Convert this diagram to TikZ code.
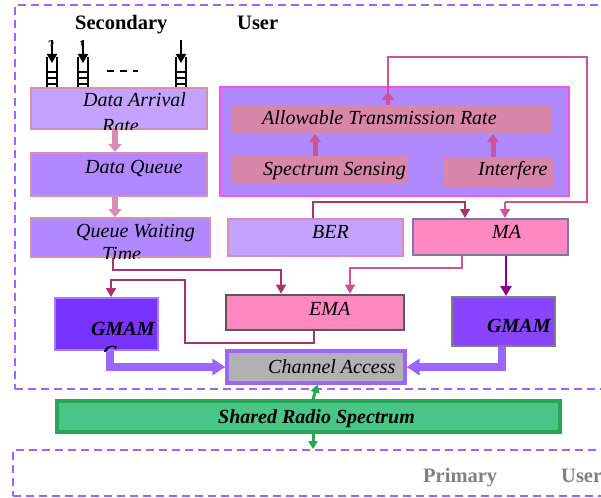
\documentclass[tikz,border=0pt]{standalone}
\usepackage{fontspec}
\setmainfont{Liberation Serif}
\usetikzlibrary{arrows.meta,calc}

\definecolor{lpur}{HTML}{C3A3FF}
\definecolor{mpur}{HTML}{B088FF}
\definecolor{pbord}{HTML}{DB8CB3}
\definecolor{magb}{HTML}{FF4FEA}
\definecolor{rose}{HTML}{D886AA}
\definecolor{rosearr}{HTML}{CC5599}
\definecolor{pinkfill}{HTML}{FF88C0}
\definecolor{maborder}{HTML}{7A7AA8}
\definecolor{darkmag}{HTML}{A8336F}
\definecolor{plum}{HTML}{880088}
\definecolor{vio}{HTML}{9966FF}
\definecolor{gmlfill}{HTML}{7733FF}
\definecolor{gmrfill}{HTML}{8844FF}
\definecolor{gmlbord}{HTML}{AA77FF}
\definecolor{cafill}{HTML}{B2B2B2}
\definecolor{srsfill}{HTML}{4AC588}
\definecolor{srsbord}{HTML}{24A857}
\definecolor{dashc}{HTML}{9966FF}
\definecolor{primgray}{HTML}{808080}

\tikzset{
  box/.style={draw, rectangle, inner sep=0pt, line width=2pt},
  dashbox/.style={draw=dashc, rectangle, inner sep=0pt, line width=1.8pt, dash pattern=on 8pt off 5pt},
  itxt/.style={font=\fontsize{20}{22}\selectfont\itshape, anchor=base west, inner sep=0pt},
  btxt/.style={font=\fontsize{20.5}{22}\selectfont\bfseries, anchor=base west, inner sep=0pt},
  bitxt/.style={font=\fontsize{20}{22}\selectfont\bfseries\itshape, anchor=base west, inner sep=0pt},
  fatpink/.style={draw=pbord, line width=6.5pt, -{Triangle[width=13pt,length=8pt]}},
  fatrose/.style={draw=rosearr, line width=5pt, -{Triangle[width=12pt,length=8pt]}},
  link/.style={line width=1.6pt, -{Triangle[width=10pt,length=9pt]}},
  fatvio/.style={draw=vio, line width=7.5pt, -{Triangle[width=16pt,length=13pt]}},
  green/.style={draw=srsbord, line width=3pt, -{Triangle[width=9pt,length=8pt]}},
}

\begin{document}
\begin{tikzpicture}[x=1pt,y=-1pt]
\clip (0,0) rectangle (601,497);
\fill[white] (0,0) rectangle (601,497);

% dashed frames
\node[dashbox, minimum width=600, minimum height=384] (sec) at (315,197) {};
\node[dashbox, minimum width=600, minimum height=46] (prim) at (313,473) {};

% titles
\node[btxt] (tsec) at (75,30) {Secondary};
\node[btxt] (tuser) at (237,30) {User};
\node[btxt, text=primgray] (tprim) at (423,482) {Primary};
\node[btxt, text=primgray] (tpuser) at (561,482) {User};

% small digits over the queues (partly hidden)
\begin{scope}
\clip (40,36) rectangle (95,46);
\node[font=\fontsize{13}{14}\selectfont\bfseries, anchor=base, inner sep=0pt] (d2) at (51,50) {2};
\node[font=\fontsize{13}{14}\selectfont\bfseries, anchor=base, inner sep=0pt] (d1) at (82,50) {1};
\end{scope}

% queue icons
\foreach \qx in {47,78,176} {
  \draw[line width=1.4pt] (\qx,57) -- (\qx,88) (\qx+10,57) -- (\qx+10,88);
  \draw[line width=1.4pt] (\qx,72) -- (\qx+10,72) (\qx,78) -- (\qx+10,78) (\qx,84) -- (\qx+10,84);
  \draw[line width=1.8pt, -{Triangle[width=10pt,length=9pt]}] (\qx+5,40) -- (\qx+5,63);
}
\draw[line width=1.5pt, dash pattern=on 7pt off 6pt] (107,71) -- (138,71);

% boxes
\node[box, fill=lpur, draw=pbord, minimum width=176, minimum height=41] (dar) at (119,108.5) {};
\node[box, fill=mpur, draw=pbord, minimum width=176, minimum height=43] (dq) at (119,174.5) {};
\node[box, fill=mpur, draw=pbord, minimum width=179, minimum height=39] (qwt) at (120.5,237.5) {};
\node[box, fill=mpur, draw=magb, minimum width=349, minimum height=109] (big) at (394.5,141.5) {};
\node[rectangle, inner sep=0pt, fill=rose, minimum width=320, minimum height=29] (atr) at (392,119.5) {};
\node[rectangle, inner sep=0pt, fill=rose, minimum width=175, minimum height=28] (ss) at (319.5,170) {};
\node[rectangle, inner sep=0pt, fill=rose, minimum width=110, minimum height=30] (intf) at (498,172) {};
\node[box, fill=lpur, draw=pbord, minimum width=175, minimum height=37] (ber) at (315.5,237.5) {};
\node[box, fill=pinkfill, draw=maborder, minimum width=155, minimum height=36] (ma) at (490.5,237) {};
\node[box, fill=pinkfill, draw=black!65, line width=2.6pt, minimum width=178, minimum height=35] (ema) at (315,312.5) {};
\node[box, fill=gmrfill, draw=black!50, minimum width=103, minimum height=49] (gmr) at (503.5,321.5) {};
\node[box, fill=gmlfill, draw=gmlbord, minimum width=103, minimum height=52] (gml) at (106.5,324) {};
\node[box, fill=cafill, draw=vio, line width=3.2pt, minimum width=178, minimum height=32] (ca) at (316,367) {};
\node[box, fill=srsfill, draw=srsbord, line width=3.2pt, minimum width=503, minimum height=31] (srs) at (308.5,416.5) {};

% texts
\node[itxt] (tdar) at (83,107) {Data Arrival};
\begin{scope}
\clip (dar.south west) rectangle (dar.north east);
\node[itxt] (tdar2) at (102,133) {Rate};
\end{scope}
\node[itxt] (tdq) at (85,173) {Data Queue};
\node[itxt] (tqwt) at (76,237) {Queue Waiting};
\begin{scope}
\clip (qwt.south west) rectangle (qwt.north east);
\node[itxt] (tqwt2) at (102,260) {Time};
\end{scope}
\node[itxt] (tatr) at (262,125) {Allowable Transmission Rate};
\node[itxt] (tss) at (263,175) {Spectrum Sensing};
\node[itxt] (tintf) at (478,175) {Interfere};
\node[itxt] (tber) at (312,238) {BER};
\node[itxt] (tma) at (492,238) {MA};
\node[itxt] (tema) at (309,315) {EMA};
\node[bitxt] (tgmr) at (487,332) {GMAM};
\node[bitxt] (tgml) at (91,335) {GMAM};
\begin{scope}
\clip (gml.south west) rectangle (gml.north east);
\node[bitxt] (tgml2) at (103,359) {C};
\end{scope}
\node[itxt] (tca) at (268,373) {Channel Access};
\node[bitxt] (tsrs) at (218,423) {Shared Radio Spectrum};

% connectors, left column
\draw[fatpink] ($(dar.south)+(-4,0)$) -- ($(dq.north)+(-4,0)$);
\draw[fatpink] ($(dq.south)+(-4,0)$) -- ($(qwt.north)+(-5.5,0)$);

% inside the big box
\draw[fatrose] ($(ss.north)+(-4.5,0)$) -- ($(ss.north |- atr.south)+(-4.5,0)$);
\draw[fatrose] ($(intf.north)+(-5,0)$) -- ($(intf.north |- atr.south)+(-5,0)$);
\draw[line width=1.6pt, draw=rosearr] ($(atr.north)+(-4,0)$) |- (587,57) |- (505,202) coordinate (c1);
\draw[link, draw=rosearr, fill=rosearr] (c1) -- ($(ma.north)+(14.5,0)$);
\draw[fatrose, line width=4pt] ($(atr.north)+(-4,0)$) -- ($(atr.north)+(-4,-13)$);

% BER -> MA
\draw[link, draw=darkmag] ($(ber.north)+(-2.5,0)$) |- (465,202) -- ($(ma.north)+(-25.5,0)$);
% MA -> EMA
\draw[link, draw=rosearr] ($(ma.south)+(-28.5,0)$) |- (350,268) -- ($(ema.north)+(35,0)$);
% QWT -> EMA
\draw[link, draw=darkmag] ($(qwt.south)+(-7.5,0)$) |- (281,270) -- ($(ema.north)+(-34,0)$);
% EMA -> GMAM left
\draw[link, draw=darkmag] ($(ema.south)+(-1,0)$) |- (185,343) |- (111,280) -- ($(gml.north)+(4.5,0)$);
% MA -> GMAM right
\draw[draw=plum, line width=2.4pt, -{Triangle[width=11pt,length=10pt]}] ($(ma.south)+(15.5,0)$) -- ($(gmr.north)+(2.5,0)$);

% GMAMs -> channel access
\draw[fatvio] ($(gml.south)+(3.5,0)$) |- (ca.west);
\draw[fatvio] ($(gmr.south)+(-1.5,0)$) |- (ca.east);

% channel access <-> spectrum <-> primary
\coordinate (g1) at ($(srs.south)+(4.5,0)$);
\draw[green] ($(srs.north)+(4.5,0)$) -- ($(ca.south)+(1.5,0)$);
\draw[green] (g1) -- (g1 |- prim.north);
\end{tikzpicture}
\end{document}
